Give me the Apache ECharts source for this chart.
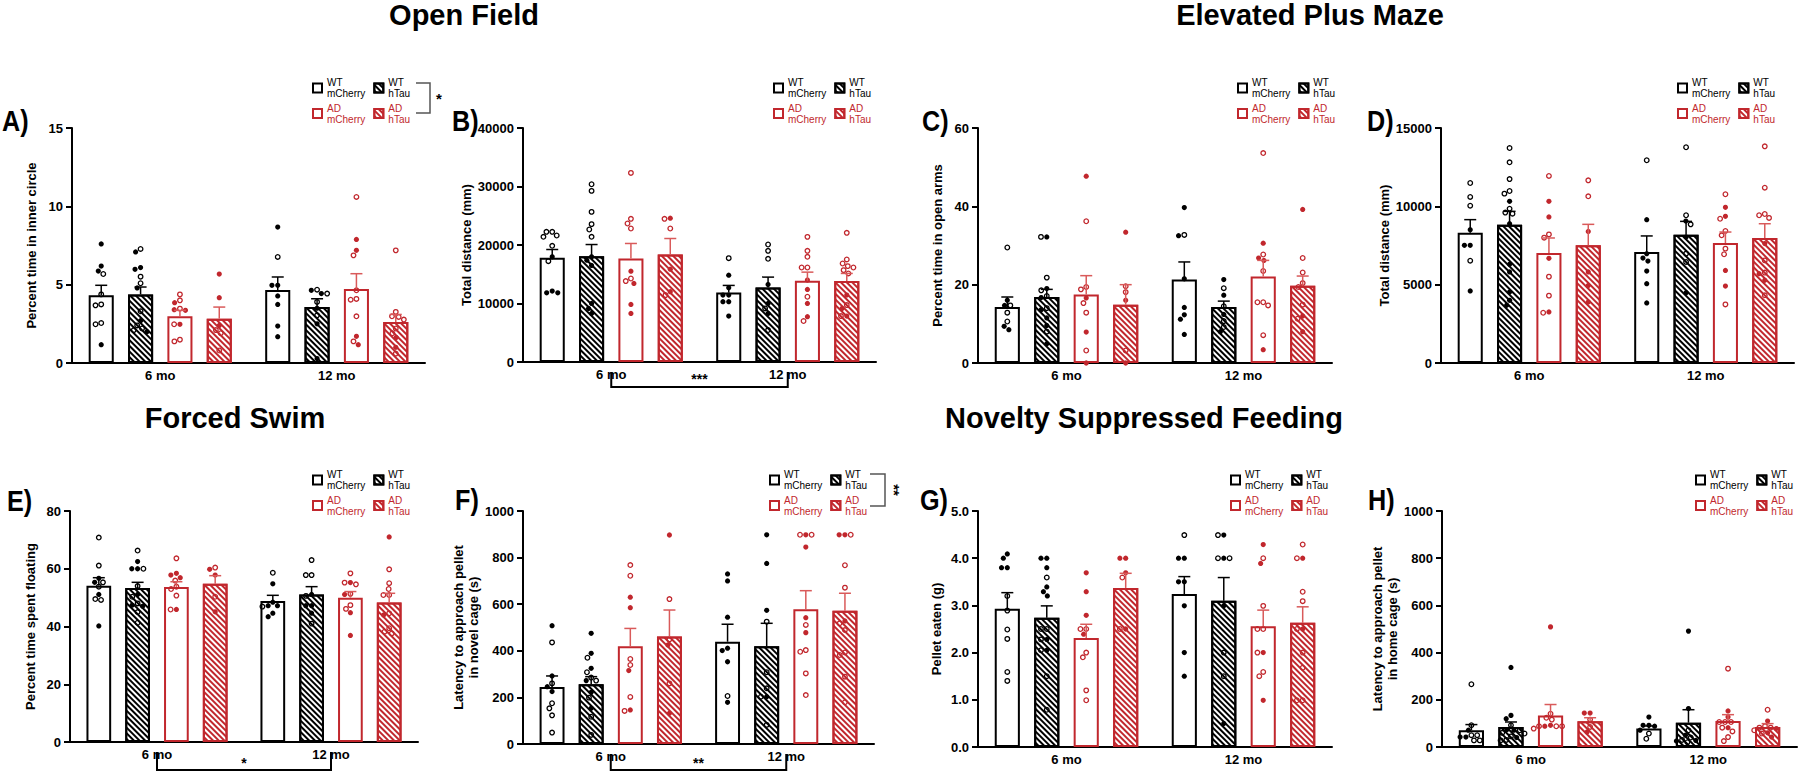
<!DOCTYPE html>
<html><head><meta charset="utf-8">
<script src="https://cdn.jsdelivr.net/npm/echarts@6/dist/echarts.min.js"></script>
<style>html,body{margin:0;padding:0;background:#fff}#c{width:1800px;height:773px}</style>
</head><body><div id="c"></div>
<script>
// ---------------- DATA ----------------
const ages = ['6 mo', '12 mo'];
const groups = ['WT mCherry', 'WT hTau', 'AD mCherry', 'AD hTau'];

// Panel A: Percent time in inner circle  ([age][group])
const A_mean = [[4.32, 4.38, 2.98, 2.83], [4.66, 3.57, 4.72, 2.62]];
const A_sem = [[0.64, 0.47, 0.38, 0.74], [0.83, 0.53, 0.98, 0.48]];
const A_filled = [
  [[7.6, 6.19, 5.87, 1.17], [7.09, 6.09, 5.98, 4.79, 2.7, 2.0], [3.85, 3.36, 3.4, 2.47], [5.68, 4.17, 2.4]],
  [[8.68, 4.96, 4.96, 4.28, 3.74, 2.36, 1.68], [4.43, 4.64, 0.28, 2.5, 3.5], [7.89, 7.19, 1.7, 1.17], [1.62, 1.0]]];
const A_open = [
  [[5.68, 4.38, 3.74, 3.68, 2.55, 2.47], [7.28, 5.51, 5.09, 3.3, 2.4, 2.2, 2.1], [4.38, 4.0, 3.47, 2.47, 1.38, 1.49], [2.1, 1.9, 0.8]],
  [[6.77], [4.68, 4.43, 3.9, 3.04], [10.6, 6.87, 4.04, 4.09, 2.98, 1.38, 4.64], [7.19, 3.26, 2.98, 2.94, 2.77, 2.2, 1.9, 0.6]]];

// Panel B: Total distance (mm), open field
const B_mean = [[17810, 18090, 17700, 18380], [11890, 12750, 13880, 13830]];
const B_sem = [[1420, 1990, 2560, 2730], [1200, 1760, 1480, 1310]];
const B_filled = [
  [[17980, 12120, 11830, 11830], [17980, 17400, 16500, 10010, 9160, 8300], [15530, 13430, 9840, 8310], [24580, 15870, 12010]],
  [[14850, 12690, 11440, 11440, 10300, 10300, 7850], [13260, 10010, 8300], [14000, 12400, 10010, 7740], [11440, 9160, 7850]]];
const B_open = [
  [[22250, 22250, 21400, 21620, 19860, 17240], [30380, 29250, 25660, 23560, 22650, 21400], [32320, 24470, 23670, 22820, 14280, 13830], [24470, 22820, 11440]],
  [[17750], [20090, 19000, 17640, 9160, 5460], [21390, 19000, 17980, 16160, 16160, 11150, 7000], [22080, 17530, 16840, 16160, 16390, 15700, 15140, 9730, 7850]]];

// Panel C: Percent time in open arms
const C_mean = [[14.3, 16.85, 17.5, 14.9], [21.3, 14.3, 22.1, 19.7]];
const C_sem = [[2.55, 1.95, 4.8, 5.1], [4.5, 1.5, 4.1, 2.5]];
const C_filled = [
  [[16.0, 14.7, 9.36, 8.5], [32.2, 19.0, 16.7, 13.6, 9.6, 4.9, 11.5], [47.7, 16.6, 7.9, 0], [33.4, 16.0, 0]],
  [[39.7, 32.5, 21.5, 14.2, 12.3, 11.2, 7.3], [21.3, 17.3, 12.4, 8.0], [30.6, 26.8, 26.2, 3.4], [39.2, 12.0, 8.0]]];
const C_open = [
  [[29.5, 14.7, 12.85, 10.6], [32.2, 21.8, 18.55, 17.1, 14.0, 8.0], [36.2, 19.4, 18.8, 15.3, 12.85, 3.2], [19.6, 18.1, 3.2]],
  [[32.7], [19.1, 14.5, 10.7, 9.2], [53.6, 27.7, 23.5, 15.5, 15.5, 14.7, 7.1], [26.8, 23.1, 20.4, 19.4, 14.9, 11.3]]];

// Panel D: Total distance (mm), elevated plus maze
const D_mean = [[8320, 8830, 7020, 7510], [7090, 8190, 7660, 7980]];
const D_sem = [[830, 850, 960, 1340], [1020, 850, 700, 910]];
const D_filled = [
  [[8510, 7510, 7510, 4600], [10320, 8890, 6300, 5810, 4530, 4000, 3680], [10320, 9320, 6680, 3260], [8400, 5810, 4940, 3890]],
  [[9150, 6700, 6980, 6510, 5870, 5060, 3830], [9060, 8040, 4490], [9940, 9360, 5910, 4910], [7620, 5700, 5280]]];
const D_open = [
  [[11490, 10600, 10040, 6530], [13720, 12810, 11740, 10810, 10980, 9850, 9600, 9530], [11940, 8210, 8000, 5510, 4300, 3210], [11660, 10640]],
  [[12940], [13770, 9430, 8850, 6980, 6450], [10770, 9210, 8430, 8150, 7300, 6940, 3740], [13830, 11190, 9510, 9260, 9430, 6550, 5770, 4320]]];

// Panel E: Percent time spent floating
const E_mean = [[54.1, 53.3, 53.7, 54.8], [48.8, 51.1, 50.0, 48.3]];
const E_sem = [[2.8, 2.0, 1.8, 2.8], [2.0, 2.7, 2.1, 3.2]];
const E_filled = [
  [[56.7, 55.3, 51.1, 40.2], [62.5, 60.0, 60.0, 51.1, 47.4, 47.0], [57.8, 58.4, 56.9, 45.9], [59.8, 57.8, 45.1]],
  [[54.8, 48.4, 47.2, 47.2, 44.6, 43.4], [51.1, 47.2, 47.2, 44.6], [55.2, 51.1, 44.8, 36.9], [71.0, 44.0]]];
const E_open = [
  [[70.8, 61.1, 55.3, 53.8, 49.2, 49.5], [66.3, 60.0, 54.0, 50.3, 41.3, 48.0, 45.0], [63.6, 55.9, 53.8, 53.0, 50.7, 45.9], [60.4, 50.3]],
  [[58.6, 46.9], [63.0, 57.8, 57.8, 50.6, 41.0], [58.4, 55.2, 54.6, 51.3, 47.4, 46.1], [59.8, 55.0, 53.0, 50.9, 50.9, 44.6, 38.2, 37.6, 39.4]]];

// Panel F: Latency to approach pellet in novel cage (s)
const F_mean = [[245, 256, 419, 461], [439, 419, 578, 572]];
const F_sem = [[47, 33, 77, 114], [75, 99, 80, 75]];
const F_filled = [
  [[508, 292, 246, 225], [475, 389, 325, 272, 222, 153], [630, 585, 315, 146], [897, 425, 132]],
  [[730, 700, 544, 411, 401, 353, 179], [898, 775, 574, 203], [898, 845, 542, 478], [898, 898, 528]]];
const F_open = [
  [[436, 260, 175, 153, 123, 49], [370, 308, 272, 285, 199, 117, 39], [768, 722, 365, 339, 202, 142], [622, 449, 260]],
  [[206], [525, 308, 239, 203, 82], [898, 898, 511, 396, 403, 303, 210], [898, 767, 671, 518, 489, 382, 393, 289, 179]]];

// Panel G: Pellet eaten (g)
const G_mean = [[2.93, 2.74, 2.31, 3.37], [3.24, 3.1, 2.56, 2.63]];
const G_sem = [[0.34, 0.25, 0.29, 0.31], [0.37, 0.49, 0.34, 0.34]];
const G_filled = [
  [[4.09, 4.0, 3.8, 3.8], [4.0, 4.0, 3.8, 3.39, 3.29, 3.2, 2.28, 2.05], [3.69, 3.29, 2.79, 2.39], [4.0, 4.0, 3.69, 2.5]],
  [[4.0, 4.0, 3.5, 3.5, 2.99, 2.0, 1.5], [4.49, 4.0, 2.99, 0.5], [4.29, 3.89, 2.0, 0.99], [4.0, 2.5]]];
const G_open = [
  [[3.2, 2.89, 2.49, 2.29, 1.59, 1.40], [3.59, 2.5, 2.5, 2.28, 2.05, 1.5, 0.79], [2.5, 2.5, 2.0, 1.9, 1.2, 0.99], [3.59, 2.5]],
  [[4.49], [4.49, 4.0, 4.0, 2.0, 1.5], [4.0, 2.99, 2.5, 2.5, 2.0, 1.59, 1.5], [4.29, 4.0, 3.29, 3.09, 2.5, 2.0, 1.68, 0.99, 0.99]]];

// Panel H: Latency to approach pellet in home cage (s)
const H_mean = [[71, 85, 134, 109], [78, 103, 110, 85]];
const H_sem = [[24, 21, 46, 15], [11, 55, 27, 14]];
const H_filled = [
  [[71, 42, 42], [337, 134, 120, 74, 71, 40], [509, 92, 88], [144, 144, 64]],
  [[127, 92, 92, 88, 71], [491, 163, 50, 28, 25], [153, 127, 82], [110, 78, 42, 60]]];
const H_open = [
  [[266, 92, 50, 50, 28, 28], [92, 71, 57, 28, 45, 60, 30], [141, 124, 88, 88, 88, 78, 116], [116, 85]],
  [[57, 35], [71, 30, 40, 20], [332, 106, 106, 106, 82, 66, 42, 25], [158, 88, 82, 82, 71, 57]]];

// ---------------- LAYOUT / STYLE ----------------
const FONT = 'Liberation Sans';
const RED = '#c1272d';
const colors = ['#000', '#000', RED, RED];
const errColors = ['#000', '#000', '#d95a5a', '#d95a5a'];
const hatched = [false, true, false, true];
const BW = 0.142, GAP = 0.57;

const panels = [
  { id: 'A)', mean: A_mean, sem: A_sem, filled: A_filled, open: A_open, max: 15, interval: 5, yName: 'Percent time in inner circle', grid: [72, 128, 353, 235], nameGap: 33, legend: [312, 77], letter: [2, 121] },
  { id: 'B)', mean: B_mean, sem: B_sem, filled: B_filled, open: B_open, max: 40000, interval: 10000, yName: 'Total distance (mm)', grid: [523, 128, 353, 234], nameGap: 46, legend: [773, 77], letter: [452, 121] },
  { id: 'C)', mean: C_mean, sem: C_sem, filled: C_filled, open: C_open, max: 60, interval: 20, yName: 'Percent time in open arms', grid: [978, 128, 354, 235], nameGap: 33, legend: [1237, 77], letter: [922, 121] },
  { id: 'D)', mean: D_mean, sem: D_sem, filled: D_filled, open: D_open, max: 15000, interval: 5000, yName: 'Total distance (mm)', grid: [1441, 128, 353, 235], nameGap: 46, legend: [1677, 77], letter: [1367, 121] },
  { id: 'E)', mean: E_mean, sem: E_sem, filled: E_filled, open: E_open, max: 80, interval: 20, yName: 'Percent time spent floating', grid: [70, 511, 348, 231], nameGap: 32, legend: [312, 469], letter: [7, 501] },
  { id: 'F)', mean: F_mean, sem: F_sem, filled: F_filled, open: F_open, max: 1000, interval: 200, yName: 'Latency to approach pellet\nin novel cage (s)', grid: [523, 511, 351, 233], nameGap: 31, legend: [769, 469], letter: [455, 500] },
  { id: 'G)', mean: G_mean, sem: G_sem, filled: G_filled, open: G_open, max: 5, interval: 1, dec: 1, yName: 'Pellet eaten (g)', grid: [978, 511, 354, 236], nameGap: 34, legend: [1230, 469], letter: [920, 500] },
  { id: 'H)', mean: H_mean, sem: H_sem, filled: H_filled, open: H_open, max: 1000, interval: 200, yName: 'Latency to approach pellet\nin home cage (s)', grid: [1442, 511, 355, 236], nameGap: 34, legend: [1695, 469], letter: [1368, 500] }
];

function hatch(c) {
  return { symbol: 'rect', symbolSize: 1, dashArrayX: [1, 0], dashArrayY: [1.4, 1.4], rotation: Math.PI / 4, color: c };
}

// beeswarm horizontal offsets (pixels) so points do not overlap
function swarm(vals, pxPer, d) {
  const order = vals.map((p, i) => i).sort((a, b) => vals[b].v - vals[a].v);
  const placed = [], out = new Array(vals.length);
  order.forEach(i => {
    const y = vals[i].v * pxPer;
    const near = placed.filter(p => Math.abs(p.y - y) < d);
    const cands = [0];
    near.forEach(p => { const w = Math.sqrt(d * d - (p.y - y) * (p.y - y)); cands.push(p.x - w, p.x + w); });
    cands.sort((a, b) => Math.abs(a) - Math.abs(b) || a - b);
    let x = 0;
    for (const c of cands) {
      if (near.every(p => Math.hypot(p.x - c, p.y - y) >= d - 1e-6)) { x = c; break; }
    }
    placed.push({ x, y }); out[i] = x;
  });
  return out;
}

const option = {
  backgroundColor: '#fff',
  animation: false,
  grid: [], xAxis: [], yAxis: [], series: [], legend: []
};

panels.forEach((P, pi) => {
  const [gl, gt, gw, gh] = P.grid;
  option.grid.push({ left: gl, top: gt, width: gw, height: gh, containLabel: false, outerBoundsMode: 'none' });
  option.xAxis.push({
    type: 'category', gridIndex: pi, data: ages,
    axisLine: { lineStyle: { color: '#000', width: 2 } },
    axisTick: { alignWithLabel: true, length: 5, lineStyle: { color: '#000', width: 2 } },
    axisLabel: { color: '#000', fontWeight: 'bold', fontSize: 13, fontFamily: FONT, margin: 6 },
    splitLine: { show: false }
  });
  option.yAxis.push({
    type: 'value', gridIndex: pi, min: 0, max: P.max, interval: P.interval,
    axisLine: { show: true, lineStyle: { color: '#000', width: 2 } },
    axisTick: { show: true, length: 6, lineStyle: { color: '#000', width: 2 } },
    axisLabel: { color: '#000', fontWeight: 'bold', fontSize: 13, fontFamily: FONT, margin: 9,
      formatter: v => P.dec ? v.toFixed(P.dec) : String(v) },
    splitLine: { show: false },
    name: P.yName, nameLocation: 'middle', nameGap: P.nameGap,
    nameTextStyle: { color: '#000', fontWeight: 'bold', fontSize: 13, fontFamily: FONT, lineHeight: 15 }
  });
  // points
  const pxPer = gh / P.max;
  const ptData = [];
  for (let a = 0; a < 2; a++) {
    for (let g = 0; g < 4; g++) {
      const pts = P.filled[a][g].map(v => ({ v, f: 1 })).concat(P.open[a][g].map(v => ({ v, f: 0 })));
      const dx = swarm(pts, pxPer, 5.8);
      pts.forEach((p, k) => ptData.push([a, g, p.v, p.f, dx[k]]));
    }
  }
  option.series.push({
    type: 'custom', name: 'points', xAxisIndex: pi, yAxisIndex: pi, z: 2, silent: true,
    encode: { x: 0, y: 2 }, data: ptData,
    renderItem: (params, api) => {
      const a = api.value(0), g = api.value(1), v = api.value(2), f = api.value(3), dx = api.value(4);
      const p = api.coord([a, v]);
      const band = api.size([1, 0])[0];
      const x = p[0] + (g - 1.5) * band * BW * (1 + GAP) + dx;
      return f ? { type: 'circle', shape: { cx: x, cy: p[1], r: 2.6 }, style: { fill: colors[g] } }
               : { type: 'circle', shape: { cx: x, cy: p[1], r: 2.3 }, style: { fill: '#fff', stroke: colors[g], lineWidth: 1.3 } };
    }
  });
  // bars
  groups.forEach((gname, g) => {
    option.series.push({
      type: 'bar', name: gname, xAxisIndex: pi, yAxisIndex: pi, z: 3, silent: true,
      barWidth: (BW * 100) + '%', barGap: (GAP * 100) + '%',
      data: [P.mean[0][g], P.mean[1][g]],
      itemStyle: Object.assign({ color: 'rgba(255,255,255,0)', borderColor: colors[g], borderWidth: 2 },
        hatched[g] ? { decal: hatch(colors[g]) } : {}),
      emphasis: { disabled: true }
    });
  });
  // error bars (mean + SEM)
  const errData = [];
  for (let a = 0; a < 2; a++) for (let g = 0; g < 4; g++) errData.push([a, g, P.mean[a][g], P.sem[a][g]]);
  option.series.push({
    type: 'custom', name: 'sem', xAxisIndex: pi, yAxisIndex: pi, z: 4, silent: true,
    encode: { x: 0, y: 2 }, data: errData,
    renderItem: (params, api) => {
      const a = api.value(0), g = api.value(1), m = api.value(2), s = api.value(3);
      const band = api.size([1, 0])[0];
      const p0 = api.coord([a, m]), p1 = api.coord([a, m + s]);
      const x = p0[0] + (g - 1.5) * band * BW * (1 + GAP);
      const st = { stroke: errColors[g], lineWidth: 1.5 };
      return { type: 'group', children: [
        { type: 'line', shape: { x1: x, y1: p0[1], x2: x, y2: p1[1] }, style: st },
        { type: 'line', shape: { x1: x - 6, y1: p1[1], x2: x + 6, y2: p1[1] }, style: st }
      ] };
    }
  });
  // legend: two rows (WT / AD), two columns (mCherry / hTau)
  [[0, 1], [2, 3]].forEach((row, r) => {
    option.legend.push({
      data: row.map(k => ({ name: groups[k], textStyle: { color: colors[k] } })),
      left: P.legend[0], top: P.legend[1] + r * 25.5, padding: 0,
      itemWidth: 9, itemHeight: 9, itemGap: 8, icon: 'rect', selectedMode: false,
      formatter: n => n.replace(' ', '\n'),
      textStyle: { fontSize: 10, lineHeight: 11, fontFamily: FONT }
    });
  });
});

const chart = echarts.init(document.getElementById('c'), null, { renderer: 'svg', width: 1800, height: 773 });
chart.setOption(option);

// ---------------- annotations ----------------
const gfx = [];
const titles = [['Open Field', 464, 15], ['Elevated Plus Maze', 1310, 15], ['Forced Swim', 235, 418], ['Novelty Suppressed Feeding', 1144, 418]];
titles.forEach(t => gfx.push({ type: 'text', x: t[1], y: t[2], style: { text: t[0], fontSize: 29, fontWeight: 'bold', fontFamily: FONT, fill: '#000', align: 'center', verticalAlign: 'middle' } }));
panels.forEach(P => gfx.push({ type: 'text', x: P.letter[0], y: P.letter[1], scaleX: 0.84,
  style: { text: P.id, fontSize: 30, fontWeight: 'bold', fontFamily: FONT, fill: '#000', align: 'left', verticalAlign: 'middle' } }));

// legend-side brackets (panel A: *, panel F: **)
function sideBracket(pi, dxTick, dxLine, y0, y1, txt, rotate) {
  const L = panels[pi].legend;
  gfx.push({ type: 'polyline', shape: { points: [[L[0] + dxTick, L[1] + y0], [L[0] + dxLine, L[1] + y0], [L[0] + dxLine, L[1] + y1], [L[0] + dxTick, L[1] + y1]] },
    style: { stroke: '#555', lineWidth: 1.5, fill: null } });
  gfx.push({ type: 'text', x: L[0] + dxLine + 9, y: L[1] + (y0 + y1) / 2, rotation: rotate ? -Math.PI / 2 : 0,
    style: { text: txt, fontSize: 15, fontWeight: 'bold', fontFamily: FONT, fill: '#000', align: 'center', verticalAlign: 'middle' } });
}
sideBracket(0, 104, 118, 6, 36, '*', false);
sideBracket(5, 101, 116, 5, 37, '**', true);

// bottom brackets between ages (panels B, E, F)
function ageBracket(pi, yOff, txtOff, txt) {
  const g = panels[pi].grid, base = g[1] + g[3];
  const x1 = chart.convertToPixel({ xAxisIndex: pi }, ages[0]);
  const x2 = chart.convertToPixel({ xAxisIndex: pi }, ages[1]);
  gfx.push({ type: 'polyline', shape: { points: [[x1, base + 10], [x1, base + yOff], [x2, base + yOff], [x2, base + 10]] },
    style: { stroke: '#000', lineWidth: 2, fill: null } });
  gfx.push({ type: 'text', x: (x1 + x2) / 2, y: base + txtOff,
    style: { text: txt, fontSize: 14, fontWeight: 'bold', fontFamily: FONT, fill: '#000', align: 'center', verticalAlign: 'middle' } });
}
ageBracket(1, 25, 17, '***');
ageBracket(4, 28, 21, '*');
ageBracket(5, 26, 19, '**');

chart.setOption({ graphic: gfx });
</script>
</body></html>
